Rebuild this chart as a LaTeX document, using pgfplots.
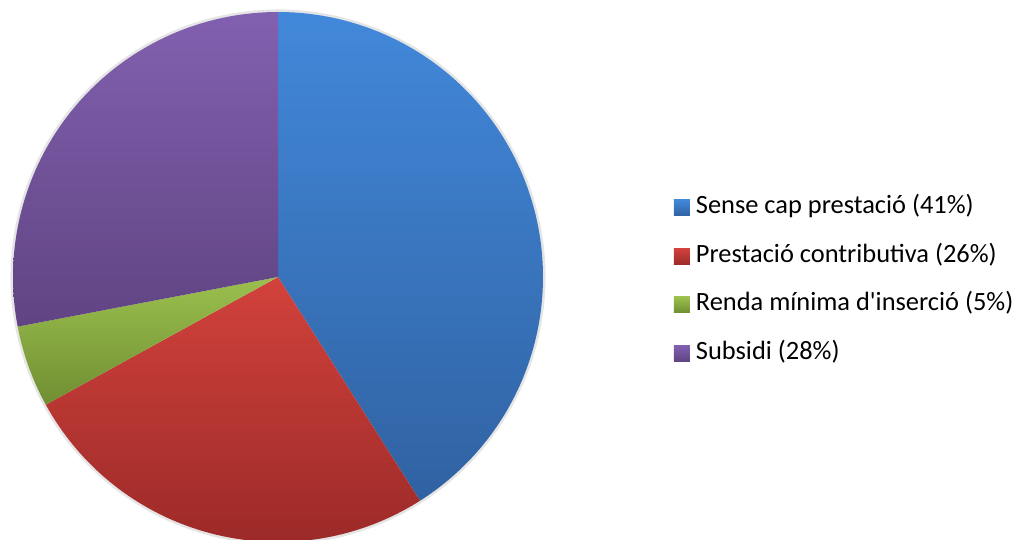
\documentclass[border=0pt]{standalone}
\usepackage{fontspec}
\setmainfont{Carlito}
\usepackage{pgfplots}
\usepgfplotslibrary{polar}
\usepackage{pgfplotstable}
\pgfplotsset{compat=1.18}
\definecolor{blueT}{RGB}{66,136,218}
\definecolor{blueB}{RGB}{48,98,162}
\definecolor{redT}{RGB}{210,66,60}
\definecolor{redB}{RGB}{156,42,40}
\definecolor{greenT}{RGB}{155,192,78}
\definecolor{greenB}{RGB}{112,142,50}
\definecolor{purpT}{RGB}{130,96,176}
\definecolor{purpB}{RGB}{96,68,130}

\pgfplotstableread{
share
41
26
5
28
}\piedata

\pgfplotsset{
 slice0/.style={top color=blueT,bottom color=blueB,draw=none},
 slice1/.style={top color=redT,bottom color=redB,draw=none},
 slice2/.style={top color=greenT,bottom color=greenB,draw=none},
 slice3/.style={top color=purpT,bottom color=purpB,draw=none},
}

\begin{document}
\begin{tikzpicture}[x=1bp,y=1bp]
\useasboundingbox (0,0) rectangle (1021,540);
\clip (0,0) rectangle (1021,540);
\begin{polaraxis}[
  at={(278bp,263bp)}, anchor=center,
  width=530bp, height=530bp, scale only axis,
  hide axis, ymin=0, ymax=1, xmin=0, xmax=360, clip=false,
  legend style={at={(1.241,0.493)}, anchor=west, draw=none, fill=none,
    font=\fontsize{26.4bp}{32bp}\selectfont, row sep=26.5bp,
    nodes={inner sep=0pt, text height=17bp, text depth=5bp}},
  legend cell align=left,
  legend image code/.code={\fill[#1] (0bp,-8bp) rectangle (16bp,8bp); \path (22bp,0bp);},
]
\addplot[draw=black!10, line width=3bp, domain=0:360, samples=240, forget plot] {1.004};
\pgfmathsetmacro\start{90}
\pgfplotsforeachungrouped \i in {0,...,3}{%
  \pgfplotstablegetelem{\i}{share}\of\piedata
  \pgfmathsetmacro\stop{\start-3.6*\pgfplotsretval}
  \edef\cmd{\noexpand\addplot[slice\i, domain=\stop:\start, samples=120] {1} -- (axis cs:0,0) -- cycle;}
  \cmd
  \global\let\start\stop
}
\legend{Sense cap prestació (41\%), Prestació contributiva (26\%), Renda mínima d\textquotesingle inserció (5\%), Subsidi (28\%)}
\end{polaraxis}
\end{tikzpicture}
\end{document}
